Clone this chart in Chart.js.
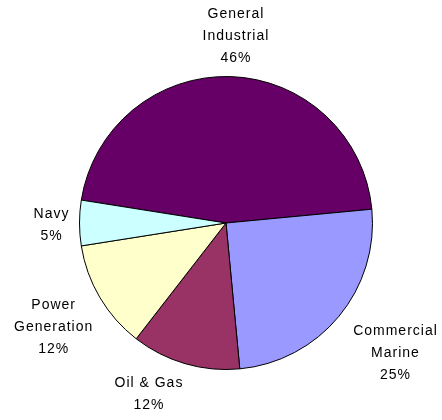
<!DOCTYPE html>
<html>
<head>
<meta charset="utf-8">
<script src="https://cdn.jsdelivr.net/npm/chart.js@4"></script>
<style>
  body { margin: 0; background: #fff; }
  canvas { display: block; }
</style>
</head>
<body>
<canvas id="pie" width="442" height="420"></canvas>
<script>
/* Market share pie with outside labels */
const categories = ['General Industrial', 'Commercial Marine', 'Oil & Gas', 'Power Generation', 'Navy'];
const labelLines = [['General', 'Industrial'], ['Commercial', 'Marine'], ['Oil & Gas'], ['Power', 'Generation'], ['Navy']];
const shares = [46, 25, 12, 12, 5];
const sliceColors = ['#660066', '#9999ff', '#993366', '#ffffcc', '#ccffff'];

// small per-label nudges so the text sits where it reads best
const nudgeX = [4, 9, -27, 2, 0];
const nudgeY = [3, -3, -1, 1, 2];
const LABEL_GAP = 10;
const LINE_H = 22;

const outsideLabels = {
  id: 'outsideLabels',
  afterDatasetsDraw(chart) {
    const ctx = chart.ctx;
    const arcs = chart.getDatasetMeta(0).data;
    ctx.save();
    ctx.font = '14px "Liberation Sans", Arial, sans-serif';
    ctx.letterSpacing = '1px';
    ctx.fillStyle = '#000';
    ctx.textAlign = 'center';
    ctx.textBaseline = 'middle';
    arcs.forEach((arc, i) => {
      const lines = labelLines[i].concat([shares[i] + '%']);
      const w = Math.max(...lines.map(l => ctx.measureText(l).width));
      const h = lines.length * LINE_H;
      const mid = (arc.startAngle + arc.endAngle) / 2;
      const ux = Math.cos(mid), uy = Math.sin(mid);
      const r = arc.outerRadius + LABEL_GAP;
      const ax = arc.x + ux * r, ay = arc.y + uy * r;
      // push the text box out until its edge touches the anchor point
      const d = Math.min(Math.abs(ux) > 1e-6 ? (w / 2) / Math.abs(ux) : Infinity,
                         Math.abs(uy) > 1e-6 ? (h / 2) / Math.abs(uy) : Infinity);
      const cx = ax + ux * d + nudgeX[i];
      const cy = ay + uy * d + nudgeY[i];
      lines.forEach((l, k) => {
        ctx.fillText(l, cx, cy - h / 2 + LINE_H * (k + 0.5));
      });
    });
    ctx.restore();
  }
};

new Chart(document.getElementById('pie').getContext('2d'), {
  type: 'pie',
  data: {
    labels: categories,
    datasets: [{
      data: shares,
      backgroundColor: sliceColors,
      borderColor: '#000',
      borderWidth: 1
    }]
  },
  options: {
    responsive: false,
    animation: false,
    rotation: 279,
    layout: { padding: { top: 76, bottom: 50, left: 79, right: 69 } },
    plugins: { legend: { display: false }, tooltip: { enabled: false } }
  },
  plugins: [outsideLabels]
});
</script>
</body>
</html>
